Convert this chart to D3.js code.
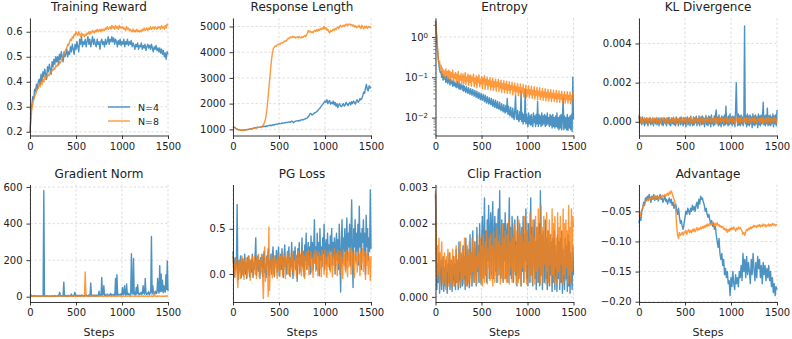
<!DOCTYPE html>
<html lang="en">
<head>
<meta charset="utf-8">
<title>Training metrics N=4 vs N=8</title>
<script src="https://cdn.jsdelivr.net/npm/d3@7"></script>
<style>
  body { margin: 0; background: #fff; }
  text { font-family: "DejaVu Sans", sans-serif; fill: #222; }
</style>
</head>
<body>
<script>
var W = 792, H = 339;
var seriesNames = ["N=4", "N=8"];
var colors = ["#1f77b4", "#ff7f0e"];
var maxStep = 1500;
var xTicks = [0, 500, 1000, 1500];

// reward, length, advantage: one value every 10 steps (151 points)
var rewardN4 = [0.2,0.27,0.31,0.34,0.33,0.37,0.36,0.39,0.37,0.4,
  0.41,0.39,0.43,0.4,0.44,0.42,0.45,0.43,0.41,0.46,
  0.44,0.47,0.45,0.43,0.48,0.46,0.49,0.47,0.5,0.48,
  0.5,0.47,0.51,0.49,0.52,0.5,0.48,0.52,0.5,0.51,
  0.53,0.5,0.52,0.51,0.54,0.52,0.55,0.53,0.51,0.55,
  0.53,0.56,0.54,0.52,0.57,0.55,0.58,0.54,0.56,0.55,
  0.57,0.54,0.56,0.58,0.55,0.57,0.54,0.56,0.58,0.55,
  0.57,0.55,0.54,0.57,0.55,0.56,0.53,0.56,0.57,0.55,
  0.56,0.54,0.57,0.55,0.56,0.58,0.55,0.57,0.56,0.58,
  0.56,0.575,0.55,0.57,0.56,0.54,0.565,0.55,0.57,0.545,
  0.56,0.55,0.57,0.54,0.56,0.55,0.57,0.545,0.56,0.55,
  0.565,0.54,0.555,0.545,0.53,0.55,0.54,0.555,0.53,0.545,
  0.54,0.555,0.53,0.545,0.535,0.55,0.525,0.54,0.55,0.535,
  0.545,0.53,0.55,0.535,0.52,0.54,0.53,0.545,0.525,0.535,
  0.52,0.535,0.515,0.53,0.51,0.525,0.5,0.515,0.49,0.52,
  0.51];
var rewardN8 = [0.2,0.25,0.29,0.31,0.33,0.34,0.35,0.36,0.37,0.375,
  0.39,0.38,0.4,0.39,0.41,0.4,0.42,0.41,0.425,0.42,
  0.43,0.425,0.44,0.435,0.45,0.445,0.455,0.45,0.465,0.46,
  0.47,0.465,0.48,0.475,0.485,0.49,0.5,0.51,0.52,0.53,
  0.535,0.55,0.545,0.56,0.57,0.565,0.58,0.575,0.59,0.585,
  0.6,0.59,0.585,0.6,0.59,0.58,0.595,0.585,0.59,0.58,
  0.59,0.585,0.595,0.59,0.6,0.59,0.6,0.595,0.605,0.6,
  0.595,0.605,0.6,0.61,0.6,0.605,0.61,0.6,0.61,0.605,
  0.61,0.605,0.615,0.61,0.62,0.61,0.615,0.62,0.61,0.625,
  0.615,0.62,0.61,0.625,0.615,0.62,0.61,0.625,0.615,0.62,
  0.615,0.62,0.61,0.615,0.605,0.62,0.61,0.615,0.605,0.61,
  0.605,0.6,0.61,0.6,0.605,0.6,0.61,0.6,0.605,0.6,
  0.605,0.6,0.61,0.605,0.615,0.605,0.61,0.615,0.605,0.615,
  0.61,0.62,0.61,0.615,0.62,0.61,0.62,0.615,0.61,0.62,
  0.615,0.62,0.61,0.625,0.615,0.62,0.61,0.625,0.615,0.63,
  0.625];

var lengthN4 = [1100,1090,1070,1040,1020,1000,990,980,970,975,
  960,965,975,970,985,990,1000,995,1010,1020,
  1030,1020,1045,1050,1060,1055,1070,1080,1075,1085,
  1090,1100,1095,1110,1120,1105,1130,1120,1140,1150,
  1150,1160,1140,1170,1180,1170,1190,1200,1190,1210,
  1230,1210,1220,1250,1230,1240,1260,1250,1270,1260,
  1280,1290,1270,1300,1320,1290,1260,1300,1320,1330,
  1340,1320,1350,1330,1370,1380,1360,1390,1400,1420,
  1420,1450,1500,1550,1620,1600,1560,1580,1620,1650,
  1650,1700,1720,1780,1800,1850,1900,1950,2000,2050,
  2100,2050,2150,2000,2080,2120,1980,2050,2000,2100,
  1950,2050,1900,2000,1850,1950,2000,1900,1880,1950,
  2000,1900,1950,2050,1980,1920,2000,2050,1950,2080,
  2000,2100,2050,1980,2100,2150,2050,2100,2200,2150,
  2200,2300,2450,2400,2600,2750,2550,2500,2700,2600,
  2650];
var lengthN8 = [1100,1090,1070,1040,1010,990,980,970,960,965,
  960,955,965,970,975,985,990,1000,1005,1010,
  1020,1025,1035,1040,1050,1055,1060,1070,1075,1080,
  1090,1100,1130,1180,1250,1350,1550,1800,2200,2600,
  3000,3400,3750,4000,4150,4200,4250,4230,4280,4300,
  4320,4300,4350,4380,4360,4400,4420,4450,4430,4500,
  4550,4520,4580,4600,4560,4620,4580,4600,4550,4580,
  4600,4560,4620,4580,4550,4600,4570,4620,4650,4600,
  4680,4750,4850,4780,4820,4760,4800,4750,4820,4850,
  4800,4880,4820,4900,4850,4920,4880,4950,4900,5000,
  4900,4950,4850,4900,4800,4750,4850,4800,4850,4900,
  4850,4920,4880,4950,4980,4920,5000,5050,4980,5020,
  5050,5000,5080,5050,5100,5030,5080,5100,5050,5080,
  5020,5060,4980,5030,4950,5000,4980,5050,4970,4920,
  5050,4980,4900,5000,4950,5020,4930,5000,4960,4990,
  4950];

var advN4 = [-0.07,-0.06,-0.065,-0.05,-0.045,-0.035,-0.04,-0.028,-0.032,-0.025,
  -0.03,-0.022,-0.028,-0.035,-0.025,-0.03,-0.022,-0.032,-0.026,-0.03,
  -0.024,-0.033,-0.027,-0.022,-0.03,-0.028,-0.035,-0.03,-0.025,-0.033,
  -0.03,-0.038,-0.032,-0.028,-0.036,-0.03,-0.04,-0.035,-0.045,-0.04,
  -0.038,-0.048,-0.055,-0.045,-0.06,-0.07,-0.065,-0.075,-0.08,-0.07,
  -0.06,-0.05,-0.055,-0.045,-0.05,-0.055,-0.045,-0.05,-0.04,-0.048,
  -0.042,-0.05,-0.04,-0.035,-0.045,-0.03,-0.038,-0.025,-0.03,-0.028,
  -0.035,-0.04,-0.05,-0.045,-0.055,-0.06,-0.055,-0.065,-0.07,-0.065,
  -0.075,-0.07,-0.08,-0.075,-0.09,-0.1,-0.11,-0.095,-0.12,-0.13,
  -0.12,-0.14,-0.13,-0.155,-0.145,-0.16,-0.15,-0.17,-0.165,-0.19,
  -0.16,-0.175,-0.15,-0.17,-0.18,-0.155,-0.17,-0.16,-0.175,-0.15,
  -0.16,-0.14,-0.165,-0.12,-0.15,-0.13,-0.16,-0.125,-0.155,-0.135,
  -0.15,-0.17,-0.13,-0.155,-0.12,-0.145,-0.165,-0.135,-0.16,-0.125,
  -0.145,-0.13,-0.16,-0.14,-0.17,-0.135,-0.155,-0.14,-0.165,-0.145,
  -0.16,-0.14,-0.165,-0.15,-0.175,-0.16,-0.185,-0.17,-0.19,-0.175,
  -0.18];
var advN8 = [-0.055,-0.06,-0.052,-0.048,-0.045,-0.04,-0.038,-0.035,-0.032,-0.03,
  -0.033,-0.028,-0.031,-0.026,-0.03,-0.027,-0.025,-0.03,-0.024,-0.028,
  -0.025,-0.03,-0.026,-0.028,-0.024,-0.027,-0.023,-0.026,-0.022,-0.025,
  -0.022,-0.02,-0.024,-0.018,-0.021,-0.016,-0.02,-0.025,-0.03,-0.035,
  -0.05,-0.075,-0.09,-0.095,-0.085,-0.09,-0.088,-0.085,-0.09,-0.084,
  -0.086,-0.082,-0.088,-0.083,-0.08,-0.085,-0.082,-0.086,-0.08,-0.083,
  -0.079,-0.084,-0.08,-0.077,-0.082,-0.078,-0.08,-0.076,-0.079,-0.075,
  -0.078,-0.074,-0.077,-0.072,-0.075,-0.071,-0.074,-0.07,-0.073,-0.069,
  -0.072,-0.068,-0.075,-0.07,-0.073,-0.069,-0.074,-0.072,-0.076,-0.074,
  -0.077,-0.075,-0.08,-0.078,-0.082,-0.079,-0.085,-0.08,-0.083,-0.078,
  -0.081,-0.077,-0.08,-0.076,-0.079,-0.083,-0.078,-0.08,-0.076,-0.079,
  -0.077,-0.08,-0.083,-0.088,-0.085,-0.09,-0.084,-0.08,-0.082,-0.078,
  -0.08,-0.076,-0.079,-0.075,-0.077,-0.073,-0.076,-0.074,-0.077,-0.073,
  -0.075,-0.072,-0.076,-0.073,-0.075,-0.071,-0.074,-0.072,-0.076,-0.073,
  -0.074,-0.071,-0.075,-0.072,-0.074,-0.07,-0.073,-0.071,-0.074,-0.072,
  -0.073];

// noisy metrics: one value every 7.5 steps (201 points)
var entropyN4 = [2.5,1.5,0.8,0.45,0.28,0.2,0.15,0.13,0.14,0.1,
  0.12,0.085,0.11,0.09,0.1,0.075,0.105,0.08,0.07,0.095,
  0.085,0.065,0.09,0.07,0.08,0.06,0.085,0.062,0.075,0.058,
  0.07,0.055,0.08,0.06,0.052,0.072,0.05,0.065,0.058,0.048,
  0.065,0.045,0.06,0.05,0.042,0.058,0.046,0.04,0.055,0.044,
  0.038,0.052,0.042,0.036,0.05,0.04,0.034,0.047,0.038,0.032,
  0.045,0.034,0.03,0.042,0.033,0.028,0.04,0.03,0.027,0.038,
  0.029,0.025,0.036,0.027,0.023,0.033,0.026,0.022,0.031,0.024,
  0.021,0.03,0.022,0.019,0.028,0.021,0.018,0.027,0.02,0.017,
  0.025,0.018,0.016,0.024,0.017,0.015,0.022,0.016,0.014,0.021,
  0.015,0.013,0.02,0.014,0.03,0.012,0.019,0.013,0.011,0.018,
  0.012,0.01,0.017,0.011,0.009,0.016,0.035,0.01,0.009,0.015,
  0.009,0.008,0.014,0.009,0.045,0.008,0.013,0.007,0.012,0.008,
  0.05,0.007,0.012,0.008,0.006,0.013,0.007,0.011,0.0065,0.012,
  0.007,0.006,0.013,0.0075,0.011,0.006,0.012,0.007,0.025,0.006,
  0.012,0.007,0.011,0.006,0.013,0.0065,0.011,0.007,0.012,0.006,
  0.011,0.0065,0.013,0.007,0.01,0.006,0.012,0.0065,0.011,0.0055,
  0.012,0.006,0.01,0.0055,0.011,0.006,0.013,0.0055,0.01,0.005,
  0.011,0.0055,0.012,0.005,0.01,0.03,0.005,0.011,0.0055,0.01,
  0.005,0.012,0.0048,0.01,0.0055,0.011,0.005,0.012,0.0045,0.1,
  0.009];
var entropyN8 = [2.5,1.7,0.9,0.55,0.3,0.22,0.25,0.16,0.2,0.13,
  0.17,0.11,0.15,0.13,0.095,0.16,0.11,0.14,0.09,0.15,
  0.1,0.14,0.085,0.13,0.1,0.15,0.08,0.12,0.095,0.13,
  0.075,0.12,0.09,0.14,0.07,0.11,0.085,0.125,0.068,0.1,
  0.12,0.07,0.095,0.13,0.065,0.1,0.08,0.12,0.062,0.11,
  0.075,0.115,0.06,0.1,0.082,0.12,0.058,0.095,0.07,0.11,
  0.055,0.1,0.075,0.115,0.058,0.09,0.068,0.105,0.052,0.095,
  0.07,0.11,0.05,0.088,0.065,0.1,0.05,0.085,0.062,0.098,
  0.048,0.08,0.06,0.095,0.047,0.078,0.058,0.09,0.045,0.075,
  0.06,0.088,0.044,0.072,0.055,0.085,0.042,0.07,0.052,0.082,
  0.041,0.068,0.05,0.08,0.04,0.065,0.048,0.078,0.039,0.062,
  0.05,0.075,0.037,0.06,0.046,0.072,0.036,0.058,0.044,0.07,
  0.035,0.056,0.042,0.068,0.034,0.054,0.041,0.066,0.033,0.052,
  0.04,0.064,0.032,0.05,0.039,0.062,0.031,0.049,0.038,0.06,
  0.03,0.047,0.037,0.058,0.029,0.046,0.036,0.056,0.028,0.045,
  0.035,0.055,0.028,0.044,0.034,0.053,0.027,0.043,0.033,0.052,
  0.026,0.042,0.032,0.05,0.026,0.041,0.031,0.049,0.025,0.04,
  0.031,0.048,0.025,0.039,0.03,0.047,0.024,0.038,0.03,0.046,
  0.024,0.038,0.029,0.045,0.024,0.037,0.028,0.044,0.023,0.036,
  0.028,0.044,0.023,0.036,0.028,0.043,0.022,0.035,0.027,0.042,
  0.035];

var klN4 = [3e-4,-1e-4,2e-4,0.5e-4,-1.5e-4,2.5e-4,-0.5e-4,1e-4,-2e-4,1.5e-4,
  -1e-4,2e-4,0,-2e-4,1.5e-4,-0.5e-4,2e-4,-1.5e-4,1e-4,-1e-4,
  2e-4,-2e-4,0.5e-4,1.5e-4,-1e-4,2e-4,-1.5e-4,0,1.8e-4,-2e-4,
  1e-4,-0.5e-4,2e-4,-1.5e-4,1.5e-4,-2e-4,0.5e-4,2e-4,-1e-4,1e-4,
  -2e-4,1.8e-4,-0.5e-4,2.2e-4,-1.5e-4,1e-4,-2e-4,2e-4,0,-1e-4,
  2.2e-4,-1.5e-4,1e-4,-2e-4,2.5e-4,-0.5e-4,1.5e-4,-2e-4,1e-4,2e-4,
  -1.5e-4,2.5e-4,-1e-4,0.5e-4,-2e-4,2.2e-4,-1e-4,1.8e-4,-2.5e-4,1e-4,
  2.5e-4,-1.5e-4,0,2e-4,-2e-4,2.8e-4,-1e-4,1e-4,-2e-4,2.5e-4,
  -1.5e-4,2e-4,-0.5e-4,2.8e-4,-2e-4,1.5e-4,-1e-4,3e-4,-2e-4,1e-4,
  2.5e-4,-1.5e-4,3e-4,-1e-4,2e-4,-2.5e-4,1e-4,3.2e-4,-1.5e-4,2e-4,
  -2e-4,3e-4,-1e-4,2.5e-4,-2.5e-4,3.5e-4,-1e-4,1.5e-4,-2e-4,3e-4,
  -1.5e-4,4e-4,6e-4,-1e-4,2.5e-4,-2e-4,3.5e-4,-1.5e-4,2e-4,-2.5e-4,
  3e-4,-1e-4,2.5e-4,-2e-4,3.5e-4,-1.5e-4,8e-4,-1e-4,2e-4,-2e-4,
  3e-4,-1.5e-4,4e-4,-1e-4,2.5e-4,-2e-4,3e-4,-1e-4,2.5e-4,-2.5e-4,
  6e-4,20e-4,3e-4,-2e-4,4e-4,-1.5e-4,3e-4,-2e-4,3.5e-4,-1e-4,
  2.5e-4,-2e-4,3e-4,49e-4,-1e-4,3e-4,-2.5e-4,4e-4,-1.5e-4,3e-4,
  -2e-4,3.5e-4,-1e-4,2.5e-4,-3e-4,4e-4,-1.5e-4,3e-4,-2e-4,3.5e-4,
  -1e-4,2.5e-4,-3e-4,4e-4,-1.5e-4,3e-4,-2e-4,3.5e-4,-1e-4,2e-4,
  10e-4,-1.5e-4,3e-4,-2e-4,3.5e-4,-1e-4,7e-4,-2e-4,3e-4,-1.5e-4,
  3.5e-4,-2e-4,2.5e-4,-1e-4,4e-4,-2.5e-4,3e-4,-1e-4,3.5e-4,-2e-4,
  6e-4];
var klN8 = [3.5e-4,1e-4,2.5e-4,-0.5e-4,2e-4,0.5e-4,-1e-4,1.5e-4,2.2e-4,0,
  -0.8e-4,1.8e-4,0.5e-4,2e-4,-1e-4,1.2e-4,2.2e-4,0,-0.5e-4,1.8e-4,
  1e-4,-1e-4,2e-4,0.5e-4,1.5e-4,-0.8e-4,2.2e-4,0,1e-4,-0.5e-4,
  2e-4,0.5e-4,-1e-4,1.8e-4,1e-4,2.2e-4,-0.5e-4,0.8e-4,1.5e-4,-1e-4,
  2e-4,0,1.2e-4,-0.8e-4,2.2e-4,0.5e-4,1e-4,-1e-4,1.8e-4,0.2e-4,
  2.4e-4,-0.5e-4,1e-4,1.8e-4,-1e-4,2e-4,0.5e-4,1.5e-4,-0.8e-4,2.2e-4,
  0,1.2e-4,-1e-4,2e-4,0.8e-4,1.6e-4,-0.5e-4,2.3e-4,0.2e-4,1e-4,
  -1e-4,2e-4,0.5e-4,1.5e-4,-0.8e-4,2.5e-4,0,1.2e-4,-1e-4,2e-4,
  1e-4,-0.5e-4,2.2e-4,0.3e-4,1.5e-4,-1e-4,2e-4,0.8e-4,-0.5e-4,2.4e-4,
  0.5e-4,1.6e-4,-1e-4,2e-4,0,1.2e-4,-0.8e-4,2.5e-4,0.5e-4,1.5e-4,
  -1e-4,2.2e-4,0.5e-4,1e-4,-0.5e-4,2.4e-4,0.2e-4,1.6e-4,-1e-4,2e-4,
  0.8e-4,-0.5e-4,2.5e-4,0,1.4e-4,-1e-4,2.2e-4,0.5e-4,1.8e-4,-0.8e-4,
  2.4e-4,0.2e-4,1e-4,-1e-4,2.2e-4,0.6e-4,1.5e-4,-0.5e-4,2.6e-4,0,
  1.2e-4,-1e-4,2.4e-4,0.5e-4,1.6e-4,-0.8e-4,2.2e-4,0.2e-4,1e-4,-1.2e-4,
  2.5e-4,0.5e-4,1.4e-4,-0.8e-4,2.2e-4,0,1.8e-4,-1e-4,2.6e-4,0.4e-4,
  1.2e-4,-0.6e-4,2.4e-4,0.2e-4,1.6e-4,-1e-4,2.2e-4,0.6e-4,1e-4,-0.8e-4,
  2.5e-4,0,1.5e-4,-1e-4,2.2e-4,0.5e-4,1.8e-4,-0.5e-4,2.6e-4,0.2e-4,
  1e-4,-1e-4,2.4e-4,0.6e-4,1.4e-4,-0.8e-4,2.2e-4,0,1.8e-4,-1e-4,
  2.6e-4,0.4e-4,1.2e-4,-0.6e-4,2.4e-4,0,1.6e-4,-1e-4,2.2e-4,0.5e-4,
  1.5e-4,-0.8e-4,2.5e-4,0.2e-4,1.2e-4,-1e-4,2.4e-4,0.6e-4,1.8e-4,-0.5e-4,
  1.5e-4];

var gradN4 = [8,3,5,2,4,3,6,2,3,4,
  2,5,3,2,4,3,2,5,3,2,
  580,3,2,4,3,5,2,3,4,2,
  3,5,2,4,3,2,6,3,2,4,
  5,3,8,25,4,3,6,3,5,80,
  4,3,6,2,5,3,8,4,3,5,
  15,4,6,3,8,25,5,4,9,3,
  6,4,8,3,5,10,4,6,3,7,
  5,8,4,6,3,9,5,4,75,6,
  4,8,5,10,3,6,9,4,7,5,
  30,8,12,5,105,9,15,60,7,12,
  6,10,15,8,5,12,9,18,7,10,
  12,8,15,6,100,10,120,8,14,10,
  9,15,8,12,50,10,18,60,12,9,
  70,12,20,10,15,8,22,235,14,18,
  210,12,25,10,50,15,65,20,10,18,
  15,25,12,20,60,18,14,100,22,12,
  20,15,28,12,18,25,330,14,60,20,
  25,15,30,18,22,100,35,20,170,28,
  125,30,90,22,60,35,25,120,40,195,
  30];
var gradN8 = [4,6,10,3,2,4,3,2,5,3,
  2,4,3,2,5,3,2,4,3,2,
  3,2,4,3,2,5,2,3,4,2,
  3,5,2,3,4,2,3,2,4,3,
  2,4,3,2,5,3,2,4,3,2,
  4,2,3,5,2,3,4,2,3,2,
  3,4,2,3,2,5,3,2,4,3,
  2,3,4,2,3,2,4,3,2,5,
  135,20,4,3,5,2,4,3,8,2,
  3,4,2,6,3,2,4,3,2,5,
  2,4,3,2,5,3,2,4,3,2,
  4,2,3,5,2,3,4,2,3,2,
  3,4,2,3,2,5,3,2,4,3,
  2,3,4,2,3,2,4,3,2,5,
  3,2,4,3,2,5,2,3,4,2,
  3,5,2,3,4,2,3,2,4,3,
  2,4,3,2,5,3,2,4,3,2,
  4,2,3,5,2,3,4,2,3,2,
  20,4,2,3,2,5,3,2,4,3,
  2,3,4,2,3,2,4,3,2,5,
  3];

var pgN4 = [0.25,0.1,-0.03,0.18,0.05,0.12,0.77,0.02,-0.06,0.15,
  0.04,0.2,-0.04,0.1,0.17,-0.02,0.08,0.22,0.0,0.12,
  -0.05,0.18,0.06,0.2,-0.03,0.1,0.15,0.02,0.22,-0.04,
  0.12,0.05,0.18,0.4,-0.02,0.1,0.2,0.03,0.15,-0.05,
  0.18,0.08,0.22,-0.03,0.12,0.25,0.02,0.1,-0.04,0.2,
  0.1,0.28,-0.02,0.15,0.06,0.22,0.0,0.18,0.3,0.05,
  -0.03,0.2,0.12,0.26,0.02,0.15,0.3,-0.02,0.1,0.22,
  0.05,0.28,0.12,-0.04,0.2,0.32,0.08,0.15,0.0,0.25,
  0.12,0.3,-0.02,0.18,0.08,0.35,0.1,-0.05,0.25,0.15,
  0.3,0.05,0.2,-0.08,0.28,0.12,0.35,0.02,0.2,0.1,
  0.4,0.08,0.25,-0.03,0.32,0.15,0.45,0.05,0.22,0.35,
  0.1,0.3,0.0,0.42,0.18,0.35,0.05,0.28,0.6,0.12,
  0.3,0.05,0.45,0.2,0.35,-0.02,0.5,0.15,0.3,0.08,
  0.4,0.22,0.55,0.05,0.3,0.38,0.1,0.45,0.2,0.32,
  0.05,0.42,0.25,0.5,0.1,0.35,0.18,0.4,0.0,0.3,
  0.45,0.15,0.38,0.05,0.55,0.2,-0.2,0.35,0.6,0.12,
  0.4,0.25,0.5,0.05,0.35,0.62,0.15,0.45,0.3,0.55,
  0.1,0.4,0.82,0.2,-0.15,0.5,0.3,0.6,0.15,0.45,
  0.25,0.55,0.1,0.75,0.3,0.45,0.05,0.5,0.35,0.6,
  0.2,0.45,0.0,0.65,0.3,0.5,0.15,0.4,0.25,0.93,
  0.28];
var pgN8 = [0.2,0.05,0.12,-0.04,0.18,0.08,-0.02,-0.15,0.14,0.02,
  0.16,-0.05,0.1,0.2,0.0,0.12,-0.06,0.15,0.05,0.18,
  -0.03,0.1,0.2,0.02,0.14,-0.07,0.16,0.06,0.19,-0.02,
  0.12,0.2,0.0,0.15,-0.05,0.18,0.08,0.22,-0.03,0.1,
  0.16,0.02,0.2,-0.06,-0.27,0.12,0.3,-0.08,0.18,0.05,
  0.2,-0.25,0.52,-0.18,0.15,0.02,0.22,-0.04,0.12,0.18,
  -0.02,0.2,0.08,0.15,-0.05,0.22,0.05,0.17,-0.03,0.2,
  0.1,0.23,-0.02,0.15,0.06,0.2,-0.05,0.18,0.1,0.24,
  0.0,0.16,0.22,-0.03,0.12,0.2,0.04,0.25,-0.02,0.15,
  0.08,0.22,-0.04,0.18,0.1,0.25,0.0,0.16,0.22,-0.02,
  0.14,0.26,0.03,0.2,-0.05,0.18,0.24,0.05,0.15,0.27,
  -0.01,0.2,0.1,0.25,0.02,0.18,-0.04,0.22,0.12,0.27,
  0.03,0.2,0.25,-0.02,0.15,0.24,0.06,0.2,-0.03,0.26,
  0.1,0.22,0.0,0.27,0.12,0.18,-0.04,0.24,0.08,0.2,
  0.26,0.02,0.15,0.25,-0.03,0.2,0.1,0.28,0.04,0.18,
  0.23,-0.02,0.26,0.12,0.2,0.0,0.25,0.08,0.18,-0.05,
  0.27,0.1,0.22,0.02,0.26,0.15,-0.03,0.24,0.08,0.2,
  0.28,0.0,0.18,0.25,0.05,0.22,-0.04,0.26,0.12,0.2,
  0.02,0.27,0.15,0.22,-0.02,0.25,0.1,0.2,0.28,0.03,
  0.18,0.25,-0.06,0.22,0.1,0.27,0.0,0.2,0.15,-0.07,
  0.2];

var clipN4 = [2.8e-3,1.5e-3,0.2e-3,0.9e-3,0.4e-3,1.2e-3,0.1e-3,0.7e-3,1.0e-3,0.2e-3,
  0.6e-3,1.1e-3,0.15e-3,0.8e-3,0.3e-3,1.0e-3,0.5e-3,0.1e-3,0.9e-3,0.4e-3,
  1.2e-3,0.2e-3,0.7e-3,1.0e-3,0.15e-3,0.6e-3,1.1e-3,0.3e-3,0.9e-3,0.2e-3,
  1.3e-3,0.4e-3,1.0e-3,0.2e-3,1.5e-3,0.6e-3,0.25e-3,1.2e-3,0.8e-3,0.3e-3,
  1.4e-3,0.5e-3,1.1e-3,0.2e-3,1.6e-3,0.7e-3,0.3e-3,1.3e-3,0.9e-3,0.25e-3,
  1.7e-3,0.6e-3,1.2e-3,0.3e-3,1.8e-3,0.8e-3,0.4e-3,1.5e-3,1.0e-3,0.3e-3,
  1.9e-3,0.7e-3,1.4e-3,0.4e-3,2.0e-3,0.9e-3,0.35e-3,1.6e-3,2.2e-3,0.5e-3,
  1.5e-3,2.7e-3,0.6e-3,1.8e-3,0.4e-3,2.1e-3,1.0e-3,2.5e-3,0.5e-3,1.7e-3,
  2.3e-3,0.6e-3,1.9e-3,2.6e-3,0.5e-3,1.6e-3,2.2e-3,0.7e-3,2.0e-3,0.4e-3,
  1.8e-3,2.4e-3,0.6e-3,2.9e-3,1.2e-3,0.5e-3,2.1e-3,1.5e-3,0.4e-3,2.0e-3,
  1.0e-3,2.3e-3,0.5e-3,1.7e-3,2.0e-3,0.4e-3,1.6e-3,2.7e-3,0.6e-3,1.9e-3,
  0.5e-3,2.2e-3,1.4e-3,0.4e-3,1.8e-3,2.1e-3,0.6e-3,1.5e-3,0.3e-3,2.2e-3,
  1.2e-3,0.5e-3,2.0e-3,1.6e-3,0.3e-3,1.9e-3,0.7e-3,2.2e-3,0.4e-3,1.7e-3,
  1.0e-3,2.4e-3,0.5e-3,1.8e-3,0.3e-3,2.0e-3,1.4e-3,0.4e-3,2.7e-3,0.6e-3,
  1.9e-3,0.3e-3,1.6e-3,2.1e-3,0.5e-3,1.5e-3,0.2e-3,1.9e-3,1.2e-3,0.4e-3,
  2.0e-3,0.3e-3,2.9e-3,0.6e-3,1.7e-3,0.2e-3,1.8e-3,1.1e-3,0.4e-3,2.1e-3,
  0.5e-3,1.6e-3,0.2e-3,1.8e-3,1.0e-3,0.3e-3,1.7e-3,0.6e-3,1.5e-3,0.15e-3,
  1.6e-3,0.4e-3,1.8e-3,0.2e-3,1.4e-3,0.8e-3,0.15e-3,1.7e-3,0.5e-3,1.5e-3,
  0.2e-3,1.6e-3,0.4e-3,1.8e-3,0.1e-3,1.3e-3,0.7e-3,0.2e-3,1.6e-3,0.5e-3,
  1.4e-3,0.15e-3,1.7e-3,0.3e-3,1.5e-3,0.1e-3,1.2e-3,0.6e-3,0.2e-3,1.4e-3,
  0.6e-3];
var clipN8 = [2.9e-3,1.8e-3,0.5e-3,1.4e-3,0.6e-3,1.6e-3,0.3e-3,1.2e-3,0.8e-3,1.5e-3,
  0.4e-3,1.0e-3,0.3e-3,1.2e-3,0.6e-3,0.2e-3,1.1e-3,0.7e-3,1.3e-3,0.3e-3,
  0.9e-3,1.2e-3,0.4e-3,1.0e-3,0.25e-3,1.3e-3,0.6e-3,1.1e-3,0.3e-3,0.8e-3,
  1.4e-3,0.4e-3,1.0e-3,0.3e-3,1.2e-3,0.7e-3,1.5e-3,0.3e-3,1.1e-3,0.5e-3,
  1.3e-3,0.35e-3,1.6e-3,0.6e-3,1.1e-3,0.3e-3,1.4e-3,0.8e-3,0.4e-3,1.5e-3,
  0.5e-3,1.2e-3,0.3e-3,1.6e-3,0.7e-3,1.3e-3,0.4e-3,1.5e-3,0.6e-3,1.1e-3,
  0.35e-3,1.7e-3,0.8e-3,1.2e-3,0.4e-3,1.6e-3,0.5e-3,1.4e-3,0.3e-3,1.7e-3,
  0.9e-3,0.4e-3,1.5e-3,0.6e-3,1.8e-3,0.35e-3,1.3e-3,0.8e-3,1.6e-3,0.45e-3,
  1.7e-3,0.5e-3,1.4e-3,0.3e-3,1.8e-3,0.9e-3,0.4e-3,1.6e-3,0.6e-3,1.9e-3,
  0.4e-3,1.5e-3,0.8e-3,1.7e-3,0.35e-3,1.4e-3,0.6e-3,2.0e-3,0.45e-3,1.6e-3,
  0.5e-3,1.8e-3,0.9e-3,0.4e-3,1.7e-3,0.6e-3,2.1e-3,0.35e-3,1.5e-3,0.8e-3,
  1.9e-3,0.4e-3,1.6e-3,0.5e-3,2.0e-3,0.7e-3,1.4e-3,0.35e-3,1.8e-3,0.9e-3,
  0.4e-3,2.1e-3,0.6e-3,1.7e-3,0.3e-3,1.9e-3,0.8e-3,1.5e-3,0.4e-3,2.2e-3,
  0.7e-3,1.8e-3,0.35e-3,2.0e-3,0.9e-3,1.5e-3,0.4e-3,2.3e-3,0.6e-3,1.7e-3,
  0.4e-3,2.1e-3,0.8e-3,1.6e-3,0.35e-3,2.2e-3,0.7e-3,1.9e-3,0.4e-3,2.4e-3,
  0.8e-3,1.7e-3,0.35e-3,2.5e-3,0.6e-3,1.9e-3,0.4e-3,2.2e-3,0.9e-3,1.6e-3,
  0.35e-3,2.3e-3,0.7e-3,1.8e-3,0.4e-3,2.1e-3,0.9e-3,1.7e-3,0.3e-3,2.4e-3,
  0.6e-3,2.0e-3,0.4e-3,2.2e-3,0.8e-3,1.6e-3,0.35e-3,2.3e-3,0.7e-3,1.9e-3,
  0.4e-3,2.2e-3,0.9e-3,1.7e-3,0.35e-3,2.4e-3,0.6e-3,2.0e-3,0.45e-3,2.1e-3,
  0.8e-3,1.8e-3,0.35e-3,2.5e-3,0.6e-3,1.9e-3,0.4e-3,2.4e-3,0.7e-3,2.2e-3,
  1.9e-3];

var panels = [
  {title: "Training Reward", s: [rewardN4, rewardN8], domain: [0.185, 0.655], ticks: [0.2, 0.3, 0.4, 0.5, 0.6], fmt: d3.format(".1f"), legend: true},
  {title: "Response Length", s: [lengthN4, lengthN8], domain: [760, 5330], ticks: [1000, 2000, 3000, 4000, 5000], fmt: d3.format("d")},
  {title: "Entropy", s: [entropyN4, entropyN8], domain: [0.0036, 2.95], ticks: [1, 0.1, 0.01], log: true},
  {title: "KL Divergence", s: [klN4, klN8], domain: [-0.0007, 0.0053], ticks: [0, 0.002, 0.004], fmt: d3.format(".3f")},
  {title: "Gradient Norm", s: [gradN4, gradN8], domain: [-29, 614], ticks: [0, 200, 400, 600], fmt: d3.format("d")},
  {title: "PG Loss", s: [pgN4, pgN8], domain: [-0.31, 0.99], ticks: [0, 0.5], fmt: d3.format(".1f")},
  {title: "Clip Fraction", s: [clipN4, clipN8], domain: [-0.00014, 0.00307], ticks: [0, 0.001, 0.002, 0.003], fmt: d3.format(".3f")},
  {title: "Advantage", s: [advN4, advN8], domain: [-0.2005, -0.0055], ticks: [-0.05, -0.10, -0.15, -0.20], fmt: d3.format(".2f")}
];

var colX = [30, 233, 435.5, 639], pw = 138;
var rowY = [18, 184.5], ph = 117.5;

var svg = d3.select("body").append("svg").attr("width", W).attr("height", H);

panels.forEach(function(p, k) {
  var col = k % 4, row = Math.floor(k / 4);
  var g = svg.append("g").attr("transform", "translate(" + colX[col] + "," + rowY[row] + ")");
  var x = d3.scaleLinear().domain([0, maxStep]).range([0, pw]);
  var y = (p.log ? d3.scaleLog() : d3.scaleLinear()).domain(p.domain).range([ph, 0]);

  // dashed grid
  var grid = g.append("g").attr("stroke", "#b0b0b0").attr("stroke-width", 0.8)
    .attr("stroke-dasharray", "2.5,2").attr("stroke-opacity", 0.5);
  grid.selectAll(".gx").data(xTicks).enter().append("line")
    .attr("x1", d => x(d)).attr("x2", d => x(d)).attr("y1", 0).attr("y2", ph);
  grid.selectAll(".gy").data(p.ticks).enter().append("line")
    .attr("x1", 0).attr("x2", pw).attr("y1", d => y(d)).attr("y2", d => y(d));

  var line = d3.line()
    .x((d, i, arr) => x(i * maxStep / (arr.length - 1)))
    .y(d => y(d));
  p.s.forEach(function(vals, j) {
    g.append("path").datum(vals).attr("d", line)
      .attr("fill", "none").attr("stroke", colors[j]).attr("stroke-opacity", 0.8)
      .attr("stroke-width", 1.4).attr("stroke-linejoin", "round");
  });

  var xa = g.append("g").attr("transform", "translate(0," + ph + ")")
    .call(d3.axisBottom(x).tickValues(xTicks).tickFormat(d3.format("d"))
      .tickSize(3.5).tickPadding(3.5).tickSizeOuter(0));
  var yAxis = d3.axisLeft(y).tickValues(p.ticks).tickSize(3.5).tickPadding(4).tickSizeOuter(0);
  if (p.fmt) yAxis.tickFormat(p.fmt);
  var ya = g.append("g").call(yAxis);

  if (p.log) {
    ya.selectAll(".tick text").each(function(d) {
      var t = d3.select(this), e = Math.round(Math.log10(d));
      t.text("10");
      t.append("tspan").attr("dy", "-0.45em").attr("font-size", 7).text(e === 0 ? "0" : "\u2212" + (-e));
    });
    var minor = [];
    [0.001, 0.01, 0.1, 1].forEach(function(b) {
      for (var m = 2; m <= 9; m++) {
        var v = b * m;
        if (v > p.domain[0] && v < p.domain[1]) minor.push(v);
      }
    });
    g.append("g").call(d3.axisLeft(y).tickValues(minor).tickFormat("").tickSize(2).tickSizeOuter(0))
      .call(a => a.select(".domain").remove())
      .selectAll(".tick line").attr("stroke", "#222").attr("stroke-width", 0.6);
  }

  [xa, ya].forEach(function(a) {
    a.attr("font-family", null).attr("font-size", 10);
    a.select(".domain").attr("stroke", "#222").attr("stroke-width", 0.9);
    a.selectAll(".tick line").attr("stroke", "#222").attr("stroke-width", 0.9);
    a.selectAll(".tick text").attr("fill", "#222");
  });

  g.append("text").attr("x", pw / 2).attr("y", -7).attr("text-anchor", "middle")
    .attr("font-size", 12).text(p.title);

  if (row === 1) {
    g.append("text").attr("x", pw / 2).attr("y", 151).attr("text-anchor", "middle")
      .attr("font-size", 11).text("Steps");
  }

  if (p.legend) {
    seriesNames.forEach(function(name, j) {
      var ly = 89 + j * 14;
      g.append("line").attr("x1", 78).attr("x2", 100).attr("y1", ly).attr("y2", ly)
        .attr("stroke", colors[j]).attr("stroke-opacity", 0.8).attr("stroke-width", 1.4);
      g.append("text").attr("x", 108).attr("y", ly + 3.5).attr("font-size", 9.5).text(name);
    });
  }
});
</script>
</body>
</html>
